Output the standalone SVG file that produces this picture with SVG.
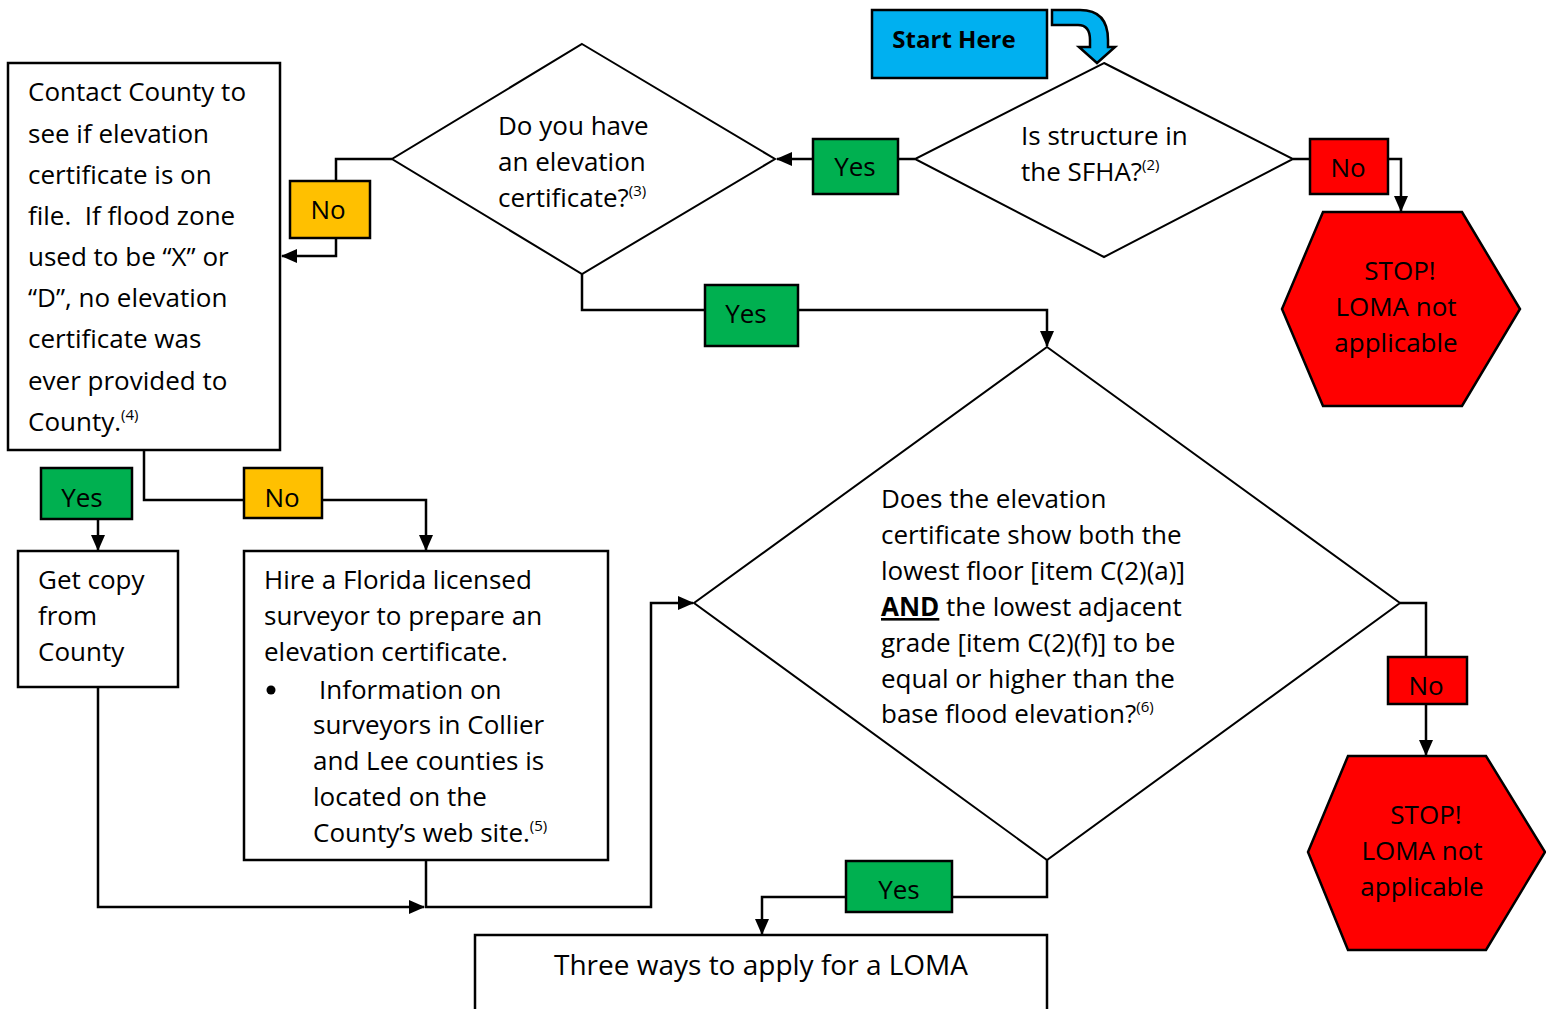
<svg xmlns="http://www.w3.org/2000/svg" width="1546" height="1009" viewBox="0 0 1546 1009">
<style>
text{font-family:"Open Sans","Noto Sans",sans-serif;font-size:26px;fill:#000}
.c{text-anchor:middle}
.sup{font-size:15px}
.box{fill:#fff;stroke:#000;stroke-width:2.5}
.shape{fill:#fff;stroke:#000;stroke-width:2}
.yes{fill:#00B050;stroke:#000;stroke-width:2.5}
.no{fill:#FFC000;stroke:#000;stroke-width:2.5}
.red{fill:#FF0000;stroke:#000;stroke-width:2.5}
.ln{fill:none;stroke:#000;stroke-width:2.5}
</style>
<defs>
<marker id="ah" markerUnits="userSpaceOnUse" markerWidth="16" markerHeight="16" refX="15" refY="8" orient="auto">
<path d="M0,1 L16,8 L0,15 Z" fill="#000"/>
</marker>
</defs>
<g id="connectors">
<path class="ln" d="M915,159 H777" marker-end="url(#ah)"/>
<path class="ln" d="M1293,159 H1401 V211" marker-end="url(#ah)"/>
<path class="ln" d="M392,159 H336 V256 H282" marker-end="url(#ah)"/>
<path class="ln" d="M582,274 V310 H1047 V346" marker-end="url(#ah)"/>
<path class="ln" d="M144,450 V500 H426 V550" marker-end="url(#ah)"/>
<path class="ln" d="M98,500 V550" marker-end="url(#ah)"/>
<path class="ln" d="M98,687 V907 H424" marker-end="url(#ah)"/>
<path class="ln" d="M426,860 V907 H651 V603 H693" marker-end="url(#ah)"/>
<path class="ln" d="M1047,860 V897 H762 V934" marker-end="url(#ah)"/>
<path class="ln" d="M1400,603 H1426 V755" marker-end="url(#ah)"/>
</g>
<g id="start">
<rect x="872" y="10" width="175" height="68" fill="#00B0F0" stroke="#000" stroke-width="2.5"/>
<text x="954" y="48" class="c" font-weight="bold" style="font-size:24px">Start Here</text>
<path d="M1052,10 H1080 Q1108,10 1108,40 V47 H1115 L1097,63 L1079,47 H1090 V40 Q1090,25 1078,25 H1052 Z" fill="#00B0F0" stroke="#000" stroke-width="2.5" stroke-linejoin="miter"/>
</g>
<g id="sfha">
<polygon class="shape" points="1104,63 1293,159 1104,257 915,159"/>
<text x="1021" y="145">Is structure in</text>
<text x="1021" y="181">the SFHA?<tspan class="sup" dy="-11">(2)</tspan></text>
</g>
<g id="have-ec">
<polygon class="shape" points="582,44 775,159 582,274 392,159"/>
<text x="498" y="135">Do you have</text>
<text x="498" y="171">an elevation</text>
<text x="498" y="207">certificate?<tspan class="sup" dy="-11">(3)</tspan></text>
</g>
<g id="stop1">
<polygon class="red" points="1323,212 1462,212 1520,309 1462,406 1323,406 1282,309"/>
<text x="1400" y="280" class="c">STOP!</text>
<text x="1396" y="316" class="c">LOMA not</text>
<text x="1396" y="352" class="c">applicable</text>
</g>
<g id="contact">
<rect class="box" x="8" y="63" width="272" height="387"/>
<text x="28" y="101">Contact County to</text>
<text x="28" y="143">see if elevation</text>
<text x="28" y="184">certificate is on</text>
<text x="28" y="225">file.&#160; If flood zone</text>
<text x="28" y="266">used to be “X” or</text>
<text x="28" y="307">“D”, no elevation</text>
<text x="28" y="348">certificate was</text>
<text x="28" y="390">ever provided to</text>
<text x="28" y="431">County.<tspan class="sup" dy="-11">(4)</tspan></text>
</g>
<g id="get-copy">
<rect class="box" x="18" y="551" width="160" height="136"/>
<text x="38" y="589">Get copy</text>
<text x="38" y="625">from</text>
<text x="38" y="661">County</text>
</g>
<g id="hire">
<rect class="box" x="244" y="551" width="364" height="309"/>
<text x="264" y="589">Hire a Florida licensed</text>
<text x="264" y="625">surveyor to prepare an</text>
<text x="264" y="661">elevation certificate.</text>
<circle cx="271" cy="690" r="4.5" fill="#000"/>
<text x="319" y="699">Information on</text>
<text x="313" y="734">surveyors in Collier</text>
<text x="313" y="770">and Lee counties is</text>
<text x="313" y="806">located on the</text>
<text x="313" y="842">County’s web site.<tspan class="sup" dy="-11">(5)</tspan></text>
</g>
<g id="check-ec">
<polygon class="shape" points="1047,347 1400,603 1047,860 694,603"/>
<text x="881" y="508">Does the elevation</text>
<text x="881" y="544">certificate show both the</text>
<text x="881" y="580">lowest floor [item C(2)(a)]</text>
<text x="881" y="616"><tspan font-weight="bold" text-decoration="underline">AND</tspan> the lowest adjacent</text>
<text x="881" y="652">grade [item C(2)(f)] to be</text>
<text x="881" y="688">equal or higher than the</text>
<text x="881" y="723">base flood elevation?<tspan class="sup" dy="-11">(6)</tspan></text>
</g>
<g id="stop2">
<polygon class="red" points="1348,756 1486,756 1545,852 1486,950 1348,950 1308,852"/>
<text x="1426" y="824" class="c">STOP!</text>
<text x="1422" y="860" class="c">LOMA not</text>
<text x="1422" y="896" class="c">applicable</text>
</g>
<g id="loma">
<rect class="box" x="475" y="935" width="572" height="80"/>
<text x="761" y="975" class="c" style="font-size:28px">Three ways to apply for a LOMA</text>
</g>
<g id="labels">
<rect class="yes" x="813" y="139" width="85" height="55"/>
<text x="855" y="176" class="c">Yes</text>
<rect class="red" x="1310" y="139" width="78" height="55"/>
<text x="1348" y="177" class="c">No</text>
<rect class="no" x="290" y="181" width="80" height="57"/>
<text x="328" y="219" class="c">No</text>
<rect class="yes" x="705" y="285" width="93" height="61"/>
<text x="746" y="323" class="c">Yes</text>
<rect class="yes" x="41" y="468" width="91" height="51"/>
<text x="82" y="507" class="c">Yes</text>
<rect class="no" x="244" y="468" width="78" height="50"/>
<text x="282" y="507" class="c">No</text>
<rect class="yes" x="846" y="861" width="106" height="51"/>
<text x="899" y="899" class="c">Yes</text>
<rect class="red" x="1388" y="657" width="79" height="47"/>
<text x="1426" y="695" class="c">No</text>
</g>
</svg>
